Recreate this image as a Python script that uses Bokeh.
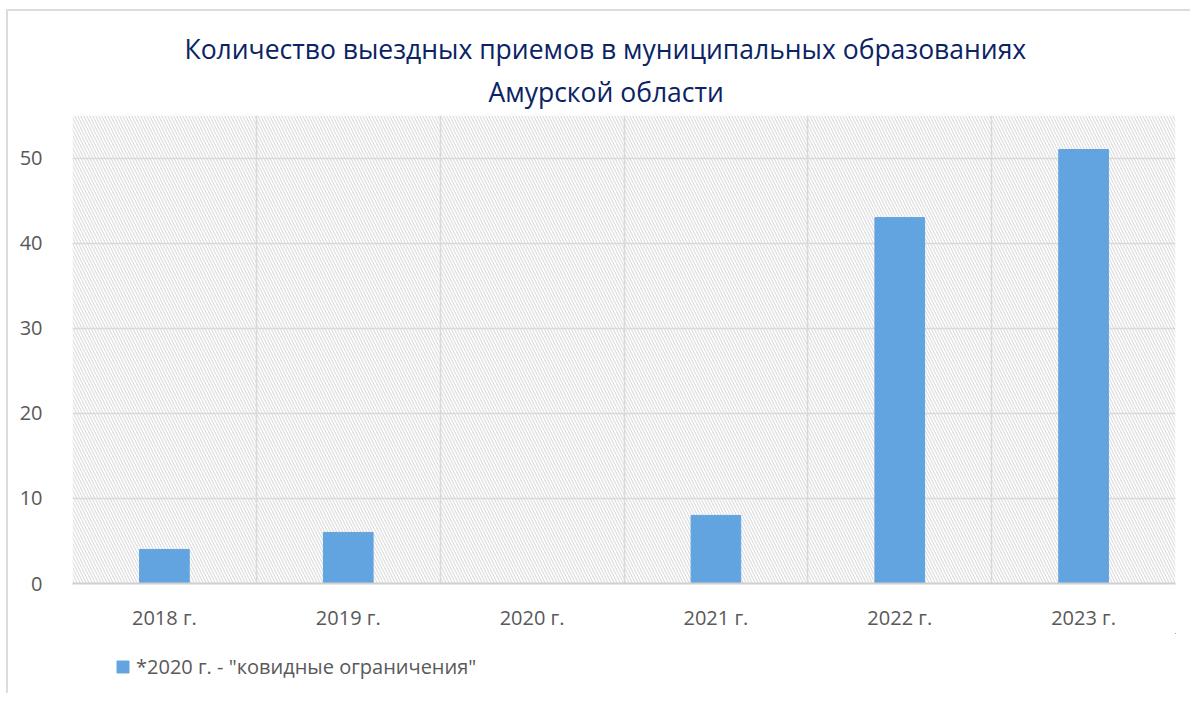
from bokeh.plotting import figure
from bokeh.models import (BoxAnnotation, FixedTicker, Legend, LegendItem, Title,
                          ColumnDataSource)
from bokeh.layouts import column
from bokeh.embed import file_html
from bokeh.resources import INLINE

years = ["2018 г.", "2019 г.", "2020 г.", "2021 г.", "2022 г.", "2023 г."]
counts = [4, 6, 0, 8, 43, 51]
y_ticks = [0, 10, 20, 30, 40, 50]
title_lines = ["Количество выездных приемов в муниципальных образованиях",
               "Амурской области"]
legend_text = '*2020 г. - "ковидные ограничения"'

FONT = "Open Sans"
LABEL_COLOR = "#595959"
GRID_COLOR = "#d9d9d9"
BAR_COLOR = "#62a4df"

xpos = [i + 0.5 for i in range(len(years))]
src = ColumnDataSource(dict(x=xpos, top=counts, year=years))

p = figure(frame_width=1103, frame_height=468,
           x_range=(0, len(years)), y_range=(0, 55),
           output_backend="svg", toolbar_location=None,
           min_border_left=64, min_border_right=15,
           min_border_top=104, min_border_bottom=50)
p.outline_line_color = None
p.background_fill_color = "white"

# hatch background
hatch = BoxAnnotation(fill_alpha=0, line_color=None, hatch_pattern="\\",
                      hatch_color="#dddddd", hatch_scale=6, hatch_weight=1.2,
                      level="image")
p.add_layout(hatch)

r = p.vbar(x="x", top="top", width=0.27, source=src,
           fill_color=BAR_COLOR, line_color=BAR_COLOR)

# title: second line closest to the frame, added first
title_offsets = [112, 416]
for i, (line, off) in enumerate(zip(reversed(title_lines), reversed(title_offsets))):
    t = Title(text=line, align="left", offset=off,
              text_font=FONT, text_font_size="26.5px", text_font_style="normal",
              text_color="#0b2364", standoff=11 if i == 0 else 0)
    p.add_layout(t, "above")

# axes
p.xaxis.ticker = FixedTicker(ticks=xpos)
p.xaxis.major_label_overrides = {x: y for x, y in zip(xpos, years)}
p.xaxis.major_label_text_font = FONT
p.xaxis.major_label_text_font_size = "20px"
p.xaxis.major_label_text_color = LABEL_COLOR
p.xaxis.major_tick_line_color = None
p.xaxis.minor_tick_line_color = None
p.xaxis.axis_line_color = "#d0d0d0"
p.xaxis.axis_line_width = 2
p.xaxis.major_label_standoff = 14

p.yaxis.ticker = FixedTicker(ticks=y_ticks)
p.yaxis.major_label_text_font = FONT
p.yaxis.major_label_text_font_size = "20px"
p.yaxis.major_label_text_color = LABEL_COLOR
p.yaxis.major_tick_line_color = None
p.yaxis.minor_tick_line_color = None
p.yaxis.axis_line_color = None
p.yaxis.major_label_standoff = 24

# grids
p.xgrid.ticker = FixedTicker(ticks=list(range(len(years) + 1)))
p.xgrid.grid_line_color = GRID_COLOR
p.xgrid.grid_line_width = 1.5
p.ygrid.ticker = FixedTicker(ticks=y_ticks)
p.ygrid.grid_line_color = GRID_COLOR
p.ygrid.grid_line_width = 1.5

# legend strip below the chart: same series drawn out of view, used only for its legend swatch
p2 = figure(width=1182, height=60, output_backend="svg", toolbar_location=None,
            x_axis_type=None, y_axis_type=None, min_border=0,
            x_range=(-10, -9), y_range=(-10, -9))
p2.outline_line_color = None
p2.grid.visible = False
proxy = p2.vbar(x="x", top="top", width=0.27, source=src,
                fill_color=BAR_COLOR, line_color=BAR_COLOR)
legend = Legend(items=[LegendItem(label=legend_text, renderers=[proxy])],
                location=(43, 13), orientation="horizontal",
                glyph_width=15, glyph_height=15,
                label_text_font=FONT, label_text_font_size="20px",
                label_text_color=LABEL_COLOR, label_standoff=6,
                border_line_color=None, background_fill_alpha=0,
                margin=0, padding=0)
p2.add_layout(legend)

layout = column(p, p2, spacing=0)
layout.styles = {"border-left": "2px solid #dcdcdc", "border-top": "2px solid #dcdcdc",
                 "margin-left": "6px", "margin-top": "9px"}

open("out.html", "w").write(file_html(layout, INLINE))
